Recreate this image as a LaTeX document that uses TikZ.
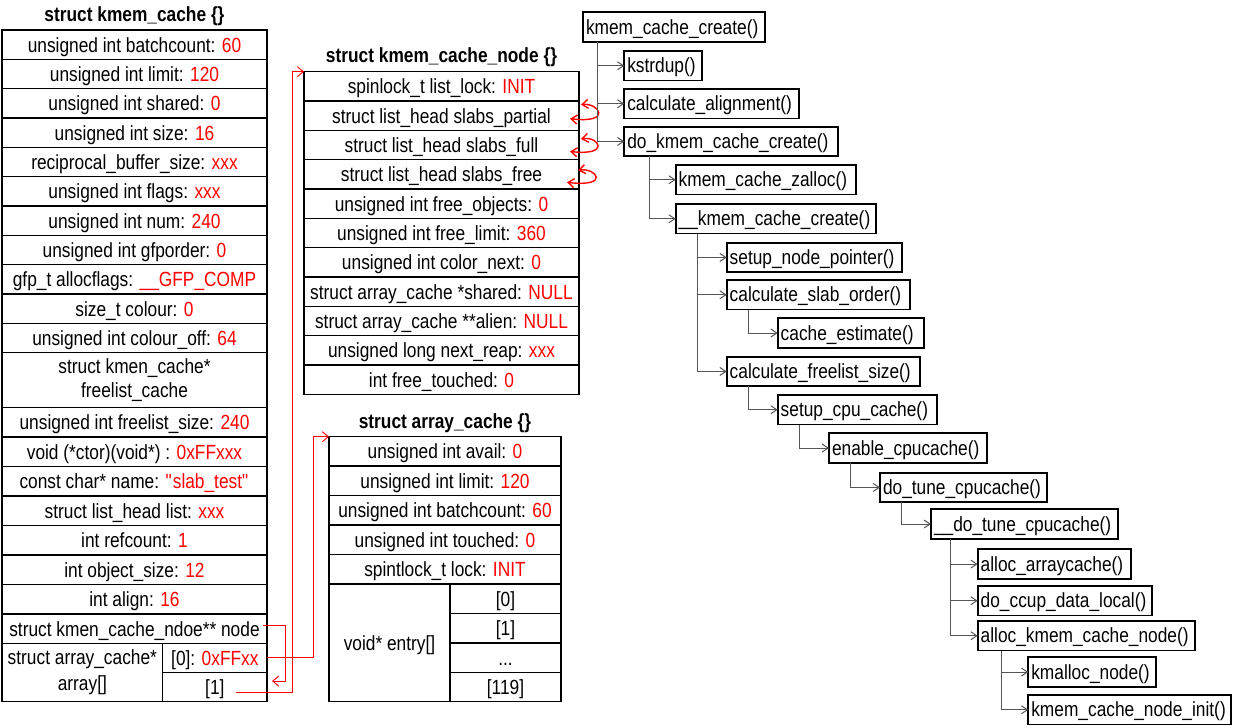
\documentclass[tikz,border=0pt]{standalone}
\usepackage{fontspec}
\setmainfont{Liberation Sans}[FakeStretch=0.845]
\usetikzlibrary{arrows.meta,calc}
\newcommand\fnt{\fontsize{20.5pt}{24pt}\selectfont}
\newcommand\rv[1]{\textcolor{red}{#1}}
\definecolor{conngray}{HTML}{555555}
\begin{document}
\begin{tikzpicture}[x=1pt,y=-1pt,
  fld/.style={draw, line width=1.4pt, anchor=north west, outer sep=0pt, inner sep=0pt, font=\fnt, align=center},
  sl/.style={text height=15pt, text depth=0pt},
  wd/.style={minimum width=#1pt},
  ht/.style={minimum height=#1pt},
  ttl/.style={font=\fnt\bfseries, inner sep=0pt},
  tbox/.style={draw, line width=1.8pt, anchor=north west, outer sep=0pt, inner xsep=3pt, inner ysep=0pt, minimum height=29.5pt, font=\fnt, align=left, text height=15pt, text depth=1pt},
  tw/.style={text width=#1pt},
  conn/.style={draw=conngray, line width=1pt, -{Straight Barb[length=6pt,width=8pt]}},
  redc/.style={draw=red, line width=0.9pt, -{Straight Barb[length=6pt,width=10pt]}},
  redl/.style={draw=red, line width=1.4pt, {Straight Barb[length=6pt,width=9pt]}-{Straight Barb[length=6pt,width=9pt]}}
]
\useasboundingbox (0,0) rectangle (1233,726);

% ---------- struct kmem_cache ----------
\node[ttl] (t1) at (134.5,16) {struct kmem\_cache \{\}};
\node[fld,sl,wd=265,ht=29.33] (kc1)  at (2,30)     {unsigned int batchcount: \rv{60}};
\node[fld,sl,wd=265,ht=29.33] (kc2)  at (2,59.33)  {unsigned int limit: \rv{120}};
\node[fld,sl,wd=265,ht=29.33] (kc3)  at (2,88.67)  {unsigned int shared: \rv{0}};
\node[fld,sl,wd=265,ht=29.33] (kc4)  at (2,118)    {unsigned int size: \rv{16}};
\node[fld,sl,wd=265,ht=29.33] (kc5)  at (2,147.33) {reciprocal\_buffer\_size: \rv{xxx}};
\node[fld,sl,wd=265,ht=29.33] (kc6)  at (2,176.67) {unsigned int flags: \rv{xxx}};
\node[fld,sl,wd=265,ht=29.33] (kc7)  at (2,206)    {unsigned int num: \rv{240}};
\node[fld,sl,wd=265,ht=29.33] (kc8)  at (2,235.33) {unsigned int gfporder: \rv{0}};
\node[fld,sl,wd=265,ht=29.33] (kc9)  at (2,264.67) {gfp\_t allocflags: \rv{\_\_GFP\_COMP}};
\node[fld,sl,wd=265,ht=29.33] (kc10) at (2,294)    {size\_t colour: \rv{0}};
\node[fld,sl,wd=265,ht=29.33] (kc11) at (2,323.33) {unsigned int colour\_off: \rv{64}};
\node[fld,wd=265,ht=55]    (kc12) at (2,352.67) {struct kmen\_cache*\\freelist\_cache};
\node[fld,sl,wd=265,ht=29.45] (kc13) at (2,407.67) {unsigned int freelist\_size: \rv{240}};
\node[fld,sl,wd=265,ht=29.45] (kc14) at (2,437.12) {void (*ctor)(void*) : \rv{0xFFxxx}};
\node[fld,sl,wd=265,ht=29.45] (kc15) at (2,466.57) {const char* name: \rv{\textquotedbl slab\_test\textquotedbl}};
\node[fld,sl,wd=265,ht=29.45] (kc16) at (2,496.02) {struct list\_head list: \rv{xxx}};
\node[fld,sl,wd=265,ht=29.45] (kc17) at (2,525.47) {int refcount: \rv{1}};
\node[fld,sl,wd=265,ht=29.45] (kc18) at (2,554.92) {int object\_size: \rv{12}};
\node[fld,sl,wd=265,ht=29.45] (kc19) at (2,584.37) {int align: \rv{16}};
\node[fld,sl,wd=265,ht=29.45] (kcnode) at (2,613.82) {struct kmen\_cache\_ndoe** node};
\node[fld,wd=160.7,ht=58.4] (kcarr) at (2,643.27) {struct array\_cache*\\[2pt]array[]};
\node[fld,sl,wd=104.3,ht=29.2] (kca0) at (162.7,643.27) {[0]: \rv{0xFFxx}};
\node[fld,sl,wd=104.3,ht=29.2] (kca1) at (162.7,672.47) {[1]};

% ---------- struct kmem_cache_node ----------
\node[ttl] (t2) at (441.5,57) {struct kmem\_cache\_node \{\}};
\node[fld,sl,wd=275,ht=29.33] (kn1)  at (304,71.67)  {spinlock\_t list\_lock: \rv{INIT}};
\node[fld,sl,wd=275,ht=29.33] (kn2)  at (304,101)    {struct list\_head slabs\_partial};
\node[fld,sl,wd=275,ht=29.33] (kn3)  at (304,130.33) {struct list\_head slabs\_full};
\node[fld,sl,wd=275,ht=29.33] (kn4)  at (304,159.67) {struct list\_head slabs\_free};
\node[fld,sl,wd=275,ht=29.33] (kn5)  at (304,189)    {unsigned int free\_objects: \rv{0}};
\node[fld,sl,wd=275,ht=29.33] (kn6)  at (304,218.33) {unsigned int free\_limit: \rv{360}};
\node[fld,sl,wd=275,ht=29.33] (kn7)  at (304,247.67) {unsigned int color\_next: \rv{0}};
\node[fld,sl,wd=275,ht=29.33] (kn8)  at (304,277)    {struct array\_cache *shared: \rv{NULL}};
\node[fld,sl,wd=275,ht=29.33] (kn9)  at (304,306.33) {struct array\_cache **alien: \rv{NULL}};
\node[fld,sl,wd=275,ht=29.33] (kn10) at (304,335.67) {unsigned long next\_reap: \rv{xxx}};
\node[fld,sl,wd=275,ht=29.33] (kn11) at (304,365)    {int free\_touched: \rv{0}};

% ---------- struct array_cache ----------
\node[ttl] (t3) at (445,423) {struct array\_cache \{\}};
\node[fld,sl,wd=232,ht=29.46] (ac1) at (329,436.7)  {unsigned int avail: \rv{0}};
\node[fld,sl,wd=232,ht=29.46] (ac2) at (329,466.16) {unsigned int limit: \rv{120}};
\node[fld,sl,wd=232,ht=29.46] (ac3) at (329,495.62) {unsigned int batchcount: \rv{60}};
\node[fld,sl,wd=232,ht=29.46] (ac4) at (329,525.08) {unsigned int touched: \rv{0}};
\node[fld,sl,wd=232,ht=29.46] (ac5) at (329,554.54) {spintlock\_t lock: \rv{INIT}};
\node[fld,sl,wd=121,ht=117.6] (acent) at (329,584) {void* entry[]};
\node[fld,sl,wd=111,ht=29.4] (ace0) at (450,584)   {[0]};
\node[fld,sl,wd=111,ht=29.4] (ace1) at (450,613.4) {[1]};
\node[fld,sl,wd=111,ht=29.4] (ace2) at (450,642.8) {...};
\node[fld,sl,wd=111,ht=29.4] (ace3) at (450,672.2) {[119]};

% ---------- red pointers ----------
\coordinate (p1) at ([xshift=-16pt]ac1.north west);
\draw[redc] (kca0.east) -| (p1) -- (ac1.north west);
\coordinate (s2) at ($(kca1.center)+(21,5)$);
\coordinate (p2) at ([xshift=-11.3pt]kn1.north west);
\draw[redc] (s2) -| (p2) -- (kn1.north west);
\coordinate (s3) at ([xshift=-3.7pt,yshift=3pt]kcnode.east);
\coordinate (n2) at ([xshift=18.7pt,yshift=6pt]kca1.east);
\coordinate (n3) at ([xshift=5pt,yshift=6pt]kca1.east);
\draw[redc] (s3) -| (n2) -- (n3);

% self loops
\draw[redl] ($(kn2.east)+(2,-11)$) .. controls ($(kn2.east)+(20,-13)$) and ($(kn2.east)+(34,8)$) .. ($(kn2.east)+(-9,3)$);
\draw[redl] ($(kn3.east)+(2,-6)$) .. controls ($(kn3.east)+(20,-9)$) and ($(kn3.east)+(32,11)$) .. ($(kn3.east)+(-9,6.5)$);
\draw[redl] ($(kn4.east)+(-1,-4)$) .. controls ($(kn4.east)+(17,-7)$) and ($(kn4.east)+(32,13)$) .. ($(kn4.east)+(-12,8)$);

% ---------- call tree ----------
\node[tbox,tw=176] (A) at (583,12.3)    {kmem\_cache\_create()};
\node[tbox,tw=72]  (B) at (624.3,51)    {kstrdup()};
\node[tbox,tw=169] (C) at (624.3,89)    {calculate\_alignment()};
\node[tbox,tw=208] (D) at (624.3,126.7) {do\_kmem\_cache\_create()};
\node[tbox,tw=174] (E) at (675.7,165)   {kmem\_cache\_zalloc()};
\node[tbox,tw=194] (F) at (675.7,204)   {\_\_kmem\_cache\_create()};
\node[tbox,tw=169] (G) at (726.7,242.7) {setup\_node\_pointer()};
\node[tbox,tw=177] (H) at (726.7,280)   {calculate\_slab\_order()};
\node[tbox,tw=140] (I) at (777.7,318.3) {cache\_estimate()};
\node[tbox,tw=187] (J) at (726.7,356.7) {calculate\_freelist\_size()};
\node[tbox,tw=153] (K) at (777.7,395)   {setup\_cpu\_cache()};
\node[tbox,tw=152] (L) at (829,433.3)   {enable\_cpucache()};
\node[tbox,tw=161] (M) at (880,472.7)   {do\_tune\_cpucache()};
\node[tbox,tw=181] (N) at (931,509.3)   {\_\_do\_tune\_cpucache()};
\node[tbox,tw=147] (O) at (977.7,549.3) {alloc\_arraycache()};
\node[tbox,tw=168] (P) at (977.7,586)   {do\_ccup\_data\_local()};
\node[tbox,tw=211] (Q) at (977.7,621)   {alloc\_kmem\_cache\_node()};
\node[tbox,tw=122] (R) at (1028.3,657.3) {kmalloc\_node()};
\node[tbox,tw=197] (S) at (1028.3,695)  {kmem\_cache\_node\_init()};

\draw[conn] ([xshift=14.7pt]A.south west) |- (B.west);
\draw[conn] ([xshift=14.7pt]A.south west) |- (C.west);
\draw[conn] ([xshift=14.7pt]A.south west) |- (D.west);
\draw[conn] ([xshift=24.7pt]D.south west) |- (E.west);
\draw[conn] ([xshift=24.7pt]D.south west) |- (F.west);
\draw[conn] ([xshift=21.6pt]F.south west) |- (G.west);
\draw[conn] ([xshift=21.6pt]F.south west) |- (H.west);
\draw[conn] ([xshift=21.6pt]F.south west) |- (J.west);
\draw[conn] ([xshift=21.6pt]H.south west) |- (I.west);
\draw[conn] ([xshift=21.6pt]J.south west) |- (K.west);
\draw[conn] ([xshift=21.6pt]K.south west) |- (L.west);
\draw[conn] ([xshift=21.7pt]L.south west) |- (M.west);
\draw[conn] ([xshift=21.7pt]M.south west) |- (N.west);
\draw[conn] ([xshift=19pt]N.south west) |- (O.west);
\draw[conn] ([xshift=19pt]N.south west) |- (P.west);
\draw[conn] ([xshift=19pt]N.south west) |- (Q.west);
\draw[conn] ([xshift=23.3pt]Q.south west) |- (R.west);
\draw[conn] ([xshift=23.3pt]Q.south west) |- (S.west);
\end{tikzpicture}
\end{document}
